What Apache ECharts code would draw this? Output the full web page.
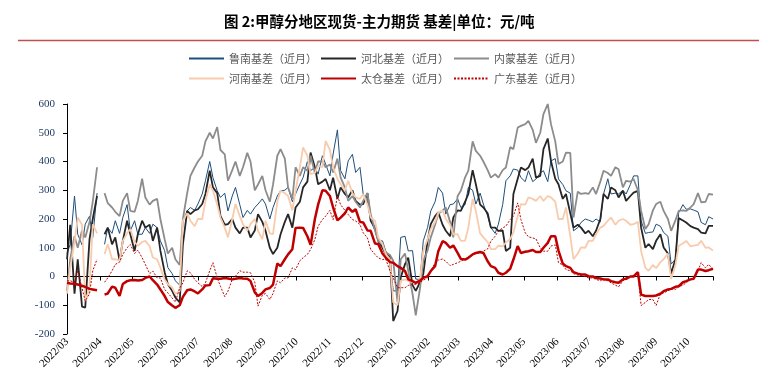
<!DOCTYPE html>
<html><head><meta charset="utf-8">
<script src="https://cdn.jsdelivr.net/npm/echarts@6/dist/echarts.min.js"></script>
<style>html,body{margin:0;padding:0;background:#fff}#c{width:779px;height:392px}</style>
</head><body><div id="c"></div>
<script>
const dates = [
'2022-03-01','2022-03-04','2022-03-08','2022-03-11','2022-03-15','2022-03-18','2022-03-22','2022-03-25','2022-03-29','2022-04-01','2022-04-05','2022-04-08','2022-04-12','2022-04-15','2022-04-19','2022-04-22','2022-04-26','2022-04-29','2022-05-03','2022-05-06',
'2022-05-10','2022-05-13','2022-05-17','2022-05-20','2022-05-24','2022-05-27','2022-05-31','2022-06-03','2022-06-07','2022-06-10','2022-06-14','2022-06-17','2022-06-21','2022-06-24','2022-06-28','2022-07-01','2022-07-05','2022-07-08','2022-07-12','2022-07-15',
'2022-07-19','2022-07-22','2022-07-26','2022-07-29','2022-08-02','2022-08-05','2022-08-09','2022-08-12','2022-08-16','2022-08-19','2022-08-23','2022-08-26','2022-08-30','2022-09-02','2022-09-06','2022-09-09','2022-09-13','2022-09-16','2022-09-20','2022-09-23',
'2022-09-27','2022-09-30','2022-10-04','2022-10-07','2022-10-11','2022-10-14','2022-10-18','2022-10-21','2022-10-25','2022-10-28','2022-11-01','2022-11-04','2022-11-08','2022-11-11','2022-11-15','2022-11-18','2022-11-22','2022-11-25','2022-11-29','2022-12-02',
'2022-12-06','2022-12-09','2022-12-13','2022-12-16','2022-12-20','2022-12-23','2022-12-27','2022-12-30','2023-01-03','2023-01-06','2023-01-10','2023-01-13','2023-01-17','2023-01-20','2023-01-24','2023-01-27','2023-01-31','2023-02-03','2023-02-07','2023-02-10',
'2023-02-14','2023-02-17','2023-02-21','2023-02-24','2023-02-28','2023-03-03','2023-03-07','2023-03-10','2023-03-14','2023-03-17','2023-03-21','2023-03-24','2023-03-28','2023-03-31','2023-04-04','2023-04-07','2023-04-11','2023-04-14','2023-04-18','2023-04-21',
'2023-04-25','2023-04-28','2023-05-02','2023-05-05','2023-05-09','2023-05-12','2023-05-16','2023-05-19','2023-05-23','2023-05-26','2023-05-30','2023-06-02','2023-06-06','2023-06-09','2023-06-13','2023-06-16','2023-06-20','2023-06-23','2023-06-27','2023-06-30',
'2023-07-04','2023-07-07','2023-07-11','2023-07-14','2023-07-18','2023-07-21','2023-07-25','2023-07-28','2023-08-01','2023-08-04','2023-08-08','2023-08-11','2023-08-15','2023-08-18','2023-08-22','2023-08-25','2023-08-29','2023-09-01','2023-09-05','2023-09-08',
'2023-09-12','2023-09-15','2023-09-19','2023-09-22','2023-09-26','2023-09-29','2023-10-03','2023-10-06','2023-10-10','2023-10-13','2023-10-17','2023-10-20','2023-10-24'];

const lunan = [
80,112, 280,147, 110,182, 210,136, 290,null, 112,170, 150,194, 150,205, 250,159, 194,147,
147,170, 150,182, 170,124, 90,31, 10,-15, -30,194, 228,240, 230,252, 287,333, 400,344,
298,275, 290,228, 280,310, 250,205, 230,217, 240,252, 270,252, 200,240, 280,298, 300,310,
260,287, 321,344, 400,368, 380,356, 420,391, 350,426, 510,368, 340,402, 425,362, 380,287,
260,194, 160,124, 124,89, 60,-50, -50,136, 140,89, 90,-9, -10,124, 170,228, 260,310,
290,217, 250,252, 270,240, 250,310, 300,252, 290,252, 210,170, 150,182, 250,333, 350,374,
370,344, 330,368, 330,339, 360,368, 330,402, 410,339, 320,298, 290,159, 170,188, 200,196,
190,200, 190,287, 340,287, 290,287, 300,287, 320,350, 350,194, 150,153, 155,182, 175,153,
140,43, 60,222, 250,234, 235,231, 225,188, 180,208, 200];

const hebei = [
60,180, -60,60, -105,-108, 130,200, 280,null, 147,170, 112,136, 55,124, 194,147, 89,147,
194,170, 180,124, 170,90, 15,-27, -50,-73, -90,112, 228,217, 230,234, 252,287, 368,310,
290,211, 180,182, 200,170, 150,170, 170,136, 160,217, 190,159, 100,78, 100,147, 190,217,
170,240, 260,310, 330,431, 380,321, 330,339, 300,344, 270,310, 287,275, 300,263, 250,252,
290,194, 170,124, 100,78, 70,-155, -120,-3, 43,66, -30,-50, -20,8, 124,182, 210,223,
180,159, 140,205, 230,228, 260,287, 370,321, 250,240, 220,170, 170,159, 160,89, 100,287,
340,379, 370,379, 410,344, 350,443, 480,402, 340,321, 270,287, 220,170, 180,170, 150,159,
140,159, 200,287, 270,310, 300,275, 298,263, 280,292, 298,170, 100,113, 95,124, 147,101,
80,10, 60,203, 195,188, 175,170, 165,153, 150,176, 176];

const neimeng = [
-50,60, 140,100, 160,136, 190,260, 380,null, 290,255, 240,225, 210,263, 290,228, 225,263,
340,275, 250,263, 270,200, 130,80, 100,60, 40,200, 290,350, 380,400, 420,470, 500,480,
520,440, 425,333, 370,400, 350,380, 430,400, 300,320, 350,300, 260,320, 420,443, 410,310,
270,380, 350,380, 368,420, 360,400, 400,380, 390,362, 410,344, 310,263, 280,260, 240,263,
290,217, 160,124, 110,84, 75,55, -90,60, 80,20, -60,-135, -40,55, 90,136, 180,217,
230,240, 190,136, 280,298, 345,368, 470,437, 420,400, 370,344, 356,344, 370,379, 450,443,
518,524, 530,541, 510,465, 500,565, 600,530, 470,391, 400,431, 430,205, 295,287, 290,287,
310,287, 330,368, 360,350, 380,373, 310,333, 330,339, 300,228, 165,182, 230,252, 260,228,
200,159, 195,228, 230,228, 240,252, 290,258, 260,287, 285];

const henan = [
-60,30, 120,205, 180,-85, -40,182, 150,null, 78,112, 60,60, 55,124, 150,165, 120,107,
120,124, 105,66, 60,31, -10,-27, -38,-61, -50,194, 220,194, 175,200, 200,263, 320,298,
250,205, 170,136, 200,252, 210,182, 160,182, 200,159, 130,194, 150,147, 260,298, 290,280,
230,298, 380,449, 420,356, 360,385, 380,472, 440,379, 340,321, 300,333, 290,275, 270,287,
250,205, 194,136, 113,78, 60,-90, -100,-15, -10,-15, -20,-21, -10,89, 130,165, 190,223,
230,200, 180,147, 147,124, 125,170, 270,228, 150,136, 120,95, 95,107, 105,118, 130,153,
210,252, 250,275, 270,263, 280,263, 280,275, 260,200, 200,240, 140,60, 80,101, 100,124,
124,147, 170,176, 194,205, 180,194, 200,194, 180,182, 190,89, 30,20, 40,29, 50,60,
80,-9, 40,107, 115,124, 105,107, 110,124, 100,101, 90];

const taicang = [
-22,-24, -25,-28, -32,-36, -43,-45, -48,null, -63,-59, -35,-39, -68,-26, -16,-13, -12,-14,
-12,-5, 0,-13, -28,-45, -68,-89, -101,-109, -100,-71, -48,-45, -52,-59, -45,-31, -30,-6,
-8,-8, -5,-7, -10,-8, -5,-7, -8,-16, -55,-68, -57,-45, -40,-28, 45,36, 60,77,
95,169, 170,169, 140,110, 200,250, 300,298, 280,240, 195,205, 220,240, 225,234, 190,188,
160,159, 115,113, 80,66, 50,48, 36,30, 19,-10, -16,-22, -14,-5, 1,19, 36,88,
123,117, 100,108, 82,61, 59,65, 77,82, 85,82, 53,36, 30,13, 7,13, 27,59,
106,82, 86,88, 92,85, 85,100, 117,140, 140,90, 45,36, 30,15, 10,7, 7,1,
0,-5, -7,-10, -10,-16, -20,-22, -10,-8, 0,0, 15,-63, -68,-68, -68,-66, -60,-51,
-45,-43, -36,-34, -20,-16, -10,-8, 24,24, 19,22, 27];

const guangdong = [
-15,-15, -20,20, -40,-85, -60,20, 60,null, -20,-5, 20,42, 50,77, 100,111, 80,92,
65,42, 10,19, -5,-5, -45,-57, -75,-89, -40,-22, 20,13, -10,-22, -35,-22, 20,48,
-5,-34, -70,-51, -10,1, 20,15, 15,13, -20,-103, -65,-59, -80,-59, -15,-22, -5,-5,
30,24, 55,65, 77,94, 129,175, 198,210, 230,198, 280,250, 230,216, 198,193, 181,152,
134,94, 77,65, 59,61, 19,-5, -39,-39, -39,-31, -28,-28, -22,-13, -5,19, 48,57,
61,53, 38,42, 48,53, 61,68, 73,80, 82,88, 96,123, 140,158, 169,175, 198,210,
256,198, 152,138, 134,131, 100,88, 88,106, 110,48, 40,24, 20,10, 5,3, 0,-5,
-5,-10, -15,-8, -15,-22, -30,-36, -15,-5, 0,3, 10,-101, -90,-80, -80,-101, -60,-57,
-50,-43, -45,-36, -30,-22, -10,-8, 20,48, 30,42, 25];

const seriesNames = ['鲁南基差（近月）','河北基差（近月）','内蒙基差（近月）','河南基差（近月）','太仓基差（近月）','广东基差（近月）'];
const seriesValues = [lunan, hebei, neimeng, henan, taicang, guangdong];
const titleText = '图 2:甲醇分地区现货-主力期货 基差|单位：元/吨';
const xMin = '2022-03-01', xMax = '2023-10-24';

const styles = [
  {color:'#1F4E79', width:1, type:'solid'},
  {color:'#262626', width:1.8, type:'solid'},
  {color:'#8C8C8C', width:1.8, type:'solid'},
  {color:'#F8CBAD', width:1.8, type:'solid'},
  {color:'#C00000', width:2.5, type:'solid'},
  {color:'#C00000', width:1, type:[2,1.5]}
];

const chart = echarts.init(document.getElementById('c'), null, {renderer:'canvas'});
const fmt = v => { const d = new Date(v); return d.getFullYear() + '/' + String(d.getMonth()+1).padStart(2,'0'); };
const legX = [188, 320, 453];

chart.setOption({
  animation: false,
  backgroundColor: '#fff',
  title: {text: titleText, left: 224, top: 14, padding: 0,
    textStyle: {fontSize: 14.5, fontWeight: 'bold', color: '#000', fontFamily: 'Noto Sans CJK SC'}},
  graphic: [{type:'line', shape:{x1:18, y1:40.5, x2:759, y2:40.5}, style:{stroke:'#C0504D', lineWidth:1.5}}],
  legend: seriesNames.map((n, i) => ({
    data: [n], left: legX[i % 3], top: i < 3 ? 53 : 73, padding: 0,
    itemWidth: 35, itemHeight: 14, itemGap: 0,
    itemStyle: {opacity: 0},
    textStyle: {fontSize: 11, color: '#595959', fontFamily: 'Noto Sans CJK SC'}
  })),
  grid: {left: 67, right: 66, top: 104, bottom: 58, containLabel: false},
  xAxis: [
    {type: 'time', min: xMin, max: xMax, splitNumber: 20, position: 'bottom',
     axisLine: {show: false, onZero: false}, axisTick: {show: false}, splitLine: {show: false},
     axisLabel: {rotate: 45, margin: 6, showMinLabel: true, showMaxLabel: false, color: '#000',
       fontFamily: 'Liberation Serif', fontSize: 11, formatter: fmt}},
    {type: 'time', min: xMin, max: xMax, splitNumber: 20, position: 'bottom',
     axisLine: {show: true, onZero: true, lineStyle: {color: '#000', width: 1}},
     axisTick: {show: true, length: 4, lineStyle: {color: '#000'}},
     axisLabel: {show: false}, splitLine: {show: false}}
  ],
  yAxis: {type: 'value', min: -200, max: 600, interval: 100,
    axisLine: {show: true, onZero: false, lineStyle: {color: '#000'}},
    axisTick: {show: true, length: 4, lineStyle: {color: '#000'}},
    splitLine: {show: false},
    axisLabel: {color: '#1F3864', fontFamily: 'Liberation Serif', fontSize: 11, margin: 12}},
  series: seriesNames.map((n, i) => ({
    name: n, type: 'line', xAxisIndex: 0, symbol: 'none', connectNulls: false,
    data: dates.map((d, j) => [d, seriesValues[i][j]]),
    lineStyle: {color: styles[i].color, width: styles[i].width, type: styles[i].type},
    itemStyle: {color: styles[i].color}
  }))
});
</script></body></html>
